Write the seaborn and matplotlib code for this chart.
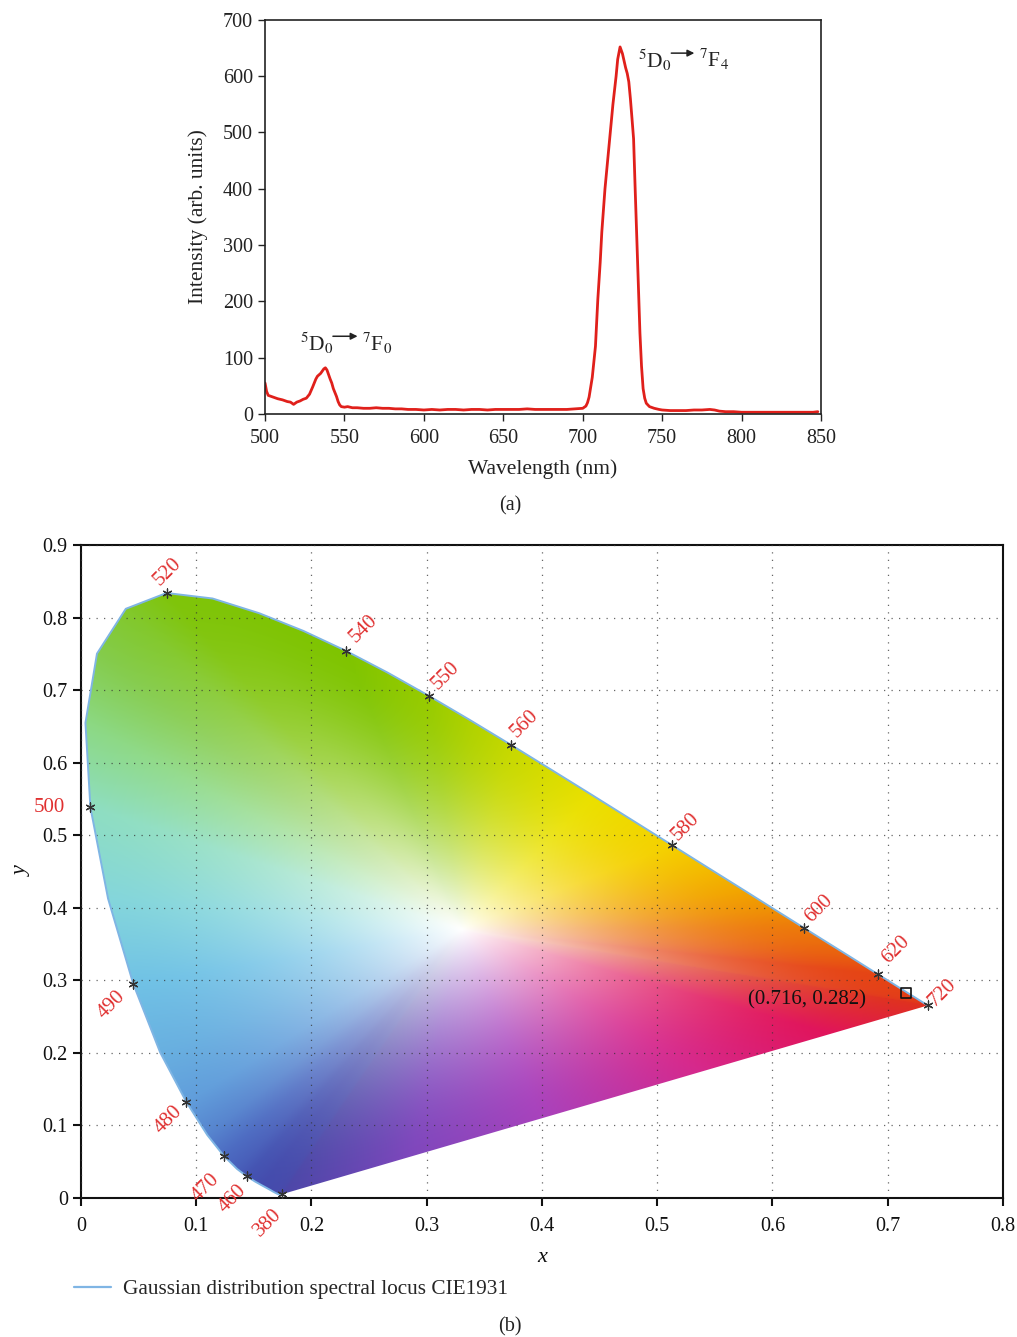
import numpy as np
import matplotlib
matplotlib.use("Agg")
import matplotlib.pyplot as plt
import seaborn as sns
from matplotlib.patches import Polygon
from matplotlib.lines import Line2D

# ---- panel (a): emission spectrum ----
wavelength = [500, 501, 502, 505, 508, 511, 514, 516, 518, 520, 522, 524, 526, 528, 530,
              532, 533, 535, 537, 538, 539, 540, 541, 542, 543, 544, 545, 546, 547, 548,
              550, 552, 555, 558, 562, 566, 570, 574, 578, 582, 586, 590, 595, 600, 605,
              610, 615, 620, 625, 630, 635, 640, 645, 650, 655, 660, 665, 670, 675, 680,
              685, 690, 695, 700, 702, 703, 704, 706, 708, 709.5, 711, 712, 714, 716, 717.5,
              719, 721, 722, 723.5, 725, 727, 728, 729, 730, 731, 732, 733, 734, 735, 736,
              737, 738, 739, 740, 742, 745, 748, 750, 755, 760, 765, 770, 775, 780, 783,
              786, 790, 795, 800, 805, 810, 815, 820, 825, 830, 835, 840, 845, 848]
intensity = [55, 40, 33, 30, 27, 25, 22, 21, 17, 21, 23, 26, 28, 35, 48,
             62, 67, 72, 80, 82, 78, 70, 62, 55, 45, 38, 31, 22, 16, 13,
             12, 13, 11, 11, 10, 10, 11, 10, 10, 9, 9, 8, 8, 7, 8,
             7, 8, 8, 7, 8, 8, 7, 8, 8, 8, 8, 9, 8, 8, 8,
             8, 8, 9, 10, 14, 20, 30, 65, 120, 204, 270, 323, 400, 460, 505,
             550, 600, 630, 652, 640, 615, 605, 590, 560, 525, 489, 400, 315, 230, 144,
             85, 45, 28, 19, 13, 10, 8, 7, 6, 6, 6, 7, 7, 8, 7,
             5, 4, 4, 3, 3, 3, 3, 3, 3, 3, 3, 3, 3, 4]

# ---- panel (b): CIE 1931 spectral locus ----
locus_nm = [380, 385, 390, 395, 400, 405, 410, 415, 420, 425, 430, 435, 440, 445, 450,
            455, 460, 465, 470, 475, 480, 485, 490, 495, 500, 505, 510, 515, 520, 525,
            530, 535, 540, 545, 550, 555, 560, 565, 570, 575, 580, 585, 590, 595, 600,
            605, 610, 615, 620, 625, 630, 635, 640, 645, 650, 655, 660, 665, 670, 675,
            680, 690, 700, 720]
locus_x = [0.1741, 0.1740, 0.1738, 0.1736, 0.1733, 0.1730, 0.1726, 0.1721, 0.1714, 0.1703,
           0.1689, 0.1669, 0.1644, 0.1611, 0.1566, 0.1510, 0.1440, 0.1355, 0.1241, 0.1096,
           0.0913, 0.0687, 0.0454, 0.0235, 0.0082, 0.0039, 0.0139, 0.0389, 0.0743, 0.1142,
           0.1547, 0.1929, 0.2296, 0.2658, 0.3016, 0.3373, 0.3731, 0.4087, 0.4441, 0.4788,
           0.5125, 0.5448, 0.5752, 0.6029, 0.6270, 0.6482, 0.6658, 0.6801, 0.6915, 0.7006,
           0.7079, 0.7140, 0.7190, 0.7230, 0.7260, 0.7283, 0.7300, 0.7311, 0.7320, 0.7327,
           0.7334, 0.7344, 0.7347, 0.7347]
locus_y = [0.0050, 0.0050, 0.0049, 0.0049, 0.0048, 0.0048, 0.0048, 0.0048, 0.0051, 0.0058,
           0.0069, 0.0086, 0.0109, 0.0138, 0.0177, 0.0227, 0.0297, 0.0399, 0.0578, 0.0868,
           0.1327, 0.2007, 0.2950, 0.4127, 0.5384, 0.6548, 0.7502, 0.8120, 0.8338, 0.8262,
           0.8059, 0.7816, 0.7543, 0.7243, 0.6923, 0.6589, 0.6245, 0.5896, 0.5547, 0.5202,
           0.4866, 0.4544, 0.4242, 0.3965, 0.3725, 0.3514, 0.3340, 0.3197, 0.3083, 0.2993,
           0.2920, 0.2859, 0.2809, 0.2770, 0.2740, 0.2717, 0.2700, 0.2689, 0.2680, 0.2673,
           0.2666, 0.2656, 0.2653, 0.2653]

marked_nm = [380, 460, 470, 480, 490, 500, 520, 540, 550, 560, 580, 600, 620, 720]
label_dx = [-14, -14, -18, -18, -22, -41, 1, 18, 17, 14, 14, 15, 18, 15]
label_dy = [-28, -22, -32, -18, -21, 0, 21, 22, 20, 21, 18, 19, 24, 13]
label_rot = [45, 45, 45, 45, 45, 0, 45, 45, 45, 45, 45, 45, 45, 45]

sample_x = [0.716]
sample_y = [0.282]

# edge colours of the shaded gamut (style), keyed by wavelength / purple-line fraction
edge_nm = [380, 450, 460, 470, 480, 490, 495, 500, 505, 510, 520, 540, 550, 560, 570,
           580, 590, 600, 620, 720]
edge_rgb = [(0.30, 0.28, 0.66), (0.27, 0.30, 0.68), (0.27, 0.33, 0.70), (0.30, 0.42, 0.76),
            (0.38, 0.62, 0.86), (0.44, 0.76, 0.90), (0.52, 0.84, 0.86), (0.56, 0.87, 0.76),
            (0.55, 0.85, 0.52), (0.52, 0.80, 0.30), (0.50, 0.77, 0.04), (0.50, 0.77, 0.0),
            (0.60, 0.80, 0.0), (0.78, 0.85, 0.0), (0.92, 0.88, 0.0), (0.96, 0.82, 0.0),
            (0.95, 0.65, 0.0), (0.93, 0.48, 0.04), (0.90, 0.27, 0.08), (0.87, 0.17, 0.13)]
purple_s = [0.15, 0.35, 0.6, 0.8]
purple_rgb = [(0.88, 0.08, 0.36), (0.84, 0.16, 0.55), (0.66, 0.26, 0.74), (0.50, 0.28, 0.74)]
white_pt = (0.33, 0.37)

sns.set_theme(style="ticks")
plt.rcParams["font.family"] = ["Liberation Serif", "DejaVu Serif"]
plt.rcParams["mathtext.fontset"] = "stix"

fig = plt.figure(figsize=(10.17, 13.37), dpi=100)

# ---------------- (a) ----------------
ax1 = fig.add_axes([0.2606, 0.6904, 0.5467, 0.2947])
sns.lineplot(x=wavelength, y=intensity, color="#e0201b", linewidth=2, ax=ax1)
ax1.set_xlim(500, 850)
ax1.set_ylim(0, 700)
ax1.set_xticks(range(500, 851, 50))
ax1.set_yticks(range(0, 701, 100))
ax1.tick_params(labelsize=14.5, direction="out", length=5, width=1, colors="#222222")
ax1.tick_params(axis="x", pad=6)
for s in ax1.spines.values():
    s.set_linewidth(1.2)
    s.set_color("#222222")
ax1.set_xlabel("Wavelength (nm)", fontsize=15.5, color="#222222", labelpad=8)
ax1.set_ylabel("Intensity (arb. units)", fontsize=15.5, color="#222222", labelpad=11)


def transition(ax, x0, y0, low, x1, x2, xf):
    ax.text(x0, y0, r"$^{5}$D$_{0}$", fontsize=15.5, ha="left", va="center", color="#222222")
    ax.annotate("", xy=(x2, y0 + 12), xytext=(x1, y0 + 12),
                arrowprops=dict(arrowstyle="-|>", color="#222222", lw=1.1,
                                mutation_scale=10))
    ax.text(xf, y0, r"$^{7}$F$_{%s}$" % low, fontsize=15.5, ha="left", va="center",
            color="#222222")


transition(ax1, 522, 126, 0, 541, 560, 561)
transition(ax1, 735, 629, 4, 754, 772, 773)

fig.text(0.5015, 0.622, "(a)", ha="center", va="center", fontsize=14.5, color="#222222")

# ---------------- (b) ----------------
ax2 = fig.add_axes([0.0796, 0.104, 0.9066, 0.4884])

# boundary vertices: locus + points on the purple line
lx = np.array(locus_x)
ly = np.array(locus_y)
bx = list(lx)
by = list(ly)
bcol = [np.array([np.interp(n, edge_nm, [c[i] for c in edge_rgb]) for i in range(3)])
        for n in locus_nm]
for s_, c_ in zip(purple_s, purple_rgb):
    bx.append(lx[-1] + s_ * (lx[0] - lx[-1]))
    by.append(ly[-1] + s_ * (ly[0] - ly[-1]))
    bcol.append(np.array(c_))
bx = np.array(bx)
by = np.array(by)
bcol = np.array(bcol)
ang = np.arctan2(by - white_pt[1], bx - white_pt[0])
rad = np.hypot(bx - white_pt[0], by - white_pt[1])
order = np.argsort(ang)
ang, rad, bcol = ang[order], rad[order], bcol[order]
ang = np.concatenate([ang[-1:] - 2 * np.pi, ang, ang[:1] + 2 * np.pi])
rad = np.concatenate([rad[-1:], rad, rad[:1]])
bcol = np.concatenate([bcol[-1:], bcol, bcol[:1]])

gx = np.linspace(0.0, 0.8, 560)
gy = np.linspace(0.0, 0.9, 630)
XX, YY = np.meshgrid(gx, gy)
pa = np.arctan2(YY - white_pt[1], XX - white_pt[0])
pr = np.hypot(XX - white_pt[0], YY - white_pt[1])
t = np.clip(pr / np.interp(pa, ang, rad), 0, 1)
f = 1 - (1 - t) ** 1.8
img = np.empty(XX.shape + (3,))
for i in range(3):
    edge = np.interp(pa, ang, bcol[:, i])
    img[..., i] = 1 + f * (edge - 1)
im = ax2.imshow(np.clip(img, 0, 1), extent=[0, 0.8, 0, 0.9], origin="lower", aspect="auto",
                interpolation="bilinear", zorder=0)
poly = Polygon(np.column_stack([locus_x, locus_y]), closed=True, transform=ax2.transData)
im.set_clip_path(poly)

sns.lineplot(x=locus_x + [locus_x[0]], y=locus_y + [locus_y[0]], sort=False,
             color="#7fb5e4", linewidth=1.4, ax=ax2, zorder=3)

mk_x = [locus_x[locus_nm.index(n)] for n in marked_nm]
mk_y = [locus_y[locus_nm.index(n)] for n in marked_nm]
ax2.scatter(mk_x, mk_y, marker=(6, 2, 0), s=42, color="#333333", linewidths=0.9, zorder=4)
for n, xx, yy, dx, dy, r in zip(marked_nm, mk_x, mk_y, label_dx, label_dy, label_rot):
    ax2.annotate(str(n), (xx, yy), xytext=(dx, dy), textcoords="offset pixels",
                 ha="center", va="center", rotation=r, fontsize=15, color="#e03030",
                 annotation_clip=False)

ax2.scatter(sample_x, sample_y, marker="s", s=55, facecolors="none", edgecolors="#111111",
            linewidths=1.2, zorder=5)
ax2.text(0.681, 0.273, "(%.3f, %.3f)" % (sample_x[0], sample_y[0]), ha="right", va="center",
         fontsize=15, color="#111111", zorder=5)

ax2.set_xlim(0, 0.8)
ax2.set_ylim(0, 0.9)
xt = [0, 0.1, 0.2, 0.3, 0.4, 0.5, 0.6, 0.7, 0.8]
yt = [0, 0.1, 0.2, 0.3, 0.4, 0.5, 0.6, 0.7, 0.8, 0.9]
ax2.set_xticks(xt)
ax2.set_xticklabels(["0"] + ["%.1f" % v for v in xt[1:]])
ax2.set_yticks(yt)
ax2.set_yticklabels(["0"] + ["%.1f" % v for v in yt[1:]])
ax2.tick_params(labelsize=14.5, direction="out", length=6, width=1.5, colors="#111111")
ax2.tick_params(axis="x", pad=8)
ax2.grid(True, linestyle=(0, (1, 5)), color="#333333", linewidth=0.9, alpha=0.75)
ax2.set_axisbelow(False)
for s in ax2.spines.values():
    s.set_linewidth(1.5)
    s.set_color("#111111")
ax2.set_xlabel("x", fontsize=16, style="italic", color="#111111", labelpad=8)
ax2.set_ylabel("y", fontsize=16, style="italic", color="#111111", labelpad=8)

handle = Line2D([], [], color="#7fb5e4", linewidth=1.6)
fig.legend([handle], ["Gaussian distribution spectral locus CIE1931"],
           loc="center left", bbox_to_anchor=(0.054, 0.0355), frameon=False,
           fontsize=15.3, handlelength=1.75, handletextpad=0.55)

fig.text(0.5015, 0.0075, "(b)", ha="center", va="center", fontsize=14.5, color="#222222")

fig.savefig("out.png", dpi=100)
